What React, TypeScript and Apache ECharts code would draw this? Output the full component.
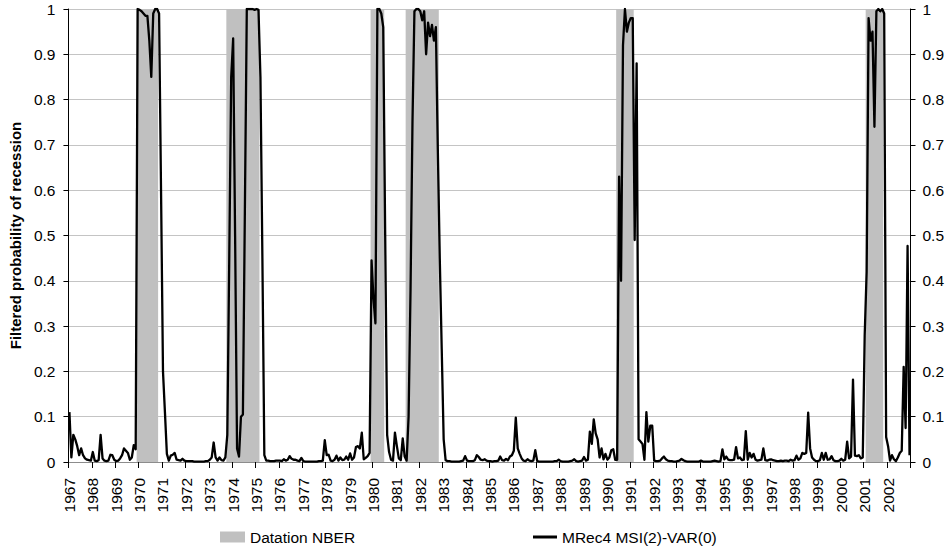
import React, { useEffect, useRef } from "react";
import * as echarts from "echarts";

// ---- Data (monthly, Jan 1967 – Dec 2002) ----
const firstYear = 1967;
const lastYear = 2002;

// Filtered probability of recession, MRec4 MSI(2)-VAR(0)
const prob1967_1972 = [
  0.11, 0.01, 0.06, 0.05, 0.035, 0.015, 0.03, 0.015, 0.008, 0.005, 0.004, 0.003,
  0.022, 0.003, 0.002, 0.004, 0.06, 0.008, 0.003, 0.002, 0.003, 0.016, 0.015, 0.005,
  0.002, 0.003, 0.008, 0.015, 0.03, 0.025, 0.02, 0.005, 0.01, 0.037, 0.028, 1.0,
  0.998, 0.995, 0.99, 0.985, 0.985, 0.93, 0.85, 0.99, 1.0, 1.0, 0.99, 0.6,
  0.2, 0.11, 0.018, 0.003, 0.014, 0.016, 0.02, 0.005, 0.004, 0.003, 0.007, 0.003,
  0.002, 0.002, 0.002, 0.002, 0.001, 0.001, 0.001, 0.001, 0.001, 0.001, 0.002, 0.002,
];
const prob1973_1978 = [
  0.005, 0.01, 0.043, 0.01, 0.003, 0.01, 0.004, 0.003, 0.01, 0.06, 0.45, 0.85,
  0.935, 0.5, 0.03, 0.012, 0.1, 0.105, 0.55, 1.0, 1.0, 1.0, 1.0, 0.998,
  1.0, 0.998, 0.85, 0.45, 0.015, 0.003, 0.003, 0.002, 0.002, 0.002, 0.003, 0.003,
  0.003, 0.002, 0.006, 0.003, 0.005, 0.013, 0.007, 0.005, 0.005, 0.003, 0.002, 0.009,
  0.002, 0.001, 0.001, 0.001, 0.001, 0.001, 0.001, 0.001, 0.002, 0.002, 0.003, 0.048,
  0.015, 0.016, 0.003, 0.002, 0.005, 0.014, 0.003, 0.01, 0.004, 0.005, 0.012, 0.005,
];
const prob1979_1984 = [
  0.019, 0.005, 0.01, 0.033, 0.035, 0.03, 0.065, 0.006, 0.009, 0.013, 0.02, 0.445,
  0.36, 0.306, 1.0, 1.0, 0.99, 0.96, 0.5, 0.06, 0.022, 0.005, 0.003, 0.065,
  0.035, 0.008, 0.004, 0.052, 0.012, 0.003, 0.1, 0.38, 0.75, 0.995, 1.0, 1.0,
  0.995, 0.975, 0.995, 0.9, 0.97, 0.94, 0.965, 0.93, 0.96, 0.69, 0.45, 0.25,
  0.05, 0.004, 0.002, 0.002, 0.001, 0.001, 0.001, 0.001, 0.001, 0.002, 0.003, 0.013,
  0.003, 0.002, 0.002, 0.002, 0.004, 0.015, 0.011, 0.005, 0.004, 0.006, 0.003, 0.002,
];
const prob1985_1990 = [
  0.002, 0.001, 0.002, 0.002, 0.003, 0.012, 0.004, 0.003, 0.007, 0.004, 0.012, 0.015,
  0.025, 0.098, 0.03, 0.018, 0.008, 0.003, 0.002, 0.006, 0.003, 0.002, 0.003, 0.026,
  0.002, 0.001, 0.001, 0.001, 0.001, 0.001, 0.001, 0.001, 0.001, 0.002, 0.002, 0.005,
  0.002, 0.001, 0.001, 0.001, 0.001, 0.002, 0.003, 0.006, 0.002, 0.001, 0.002, 0.003,
  0.011, 0.003, 0.005, 0.067, 0.04, 0.094, 0.063, 0.05, 0.01, 0.03, 0.006, 0.018,
  0.005, 0.01, 0.026, 0.028, 0.005, 0.005, 0.63, 0.4, 0.92, 1.0, 0.95, 0.97,
];
const prob1991_1996 = [
  0.98, 0.98, 0.49, 0.88, 0.05, 0.045, 0.04, 0.005, 0.11, 0.045, 0.08, 0.08,
  0.003, 0.002, 0.002, 0.003, 0.008, 0.012, 0.006, 0.003, 0.002, 0.002, 0.001, 0.001,
  0.002, 0.003, 0.007, 0.004, 0.002, 0.001, 0.001, 0.001, 0.001, 0.001, 0.001, 0.001,
  0.003, 0.001, 0.001, 0.001, 0.001, 0.001, 0.002, 0.003, 0.002, 0.001, 0.002, 0.028,
  0.006, 0.012, 0.005, 0.004, 0.004, 0.005, 0.033, 0.008, 0.01, 0.004, 0.005, 0.068,
  0.005, 0.02, 0.01, 0.018, 0.005, 0.003, 0.004, 0.005, 0.03, 0.004, 0.003, 0.005,
];
const prob1997_2002 = [
  0.006, 0.004, 0.003, 0.002, 0.002, 0.003, 0.002, 0.003, 0.003, 0.002, 0.005, 0.003,
  0.004, 0.014, 0.005, 0.008, 0.02, 0.018, 0.02, 0.109, 0.03, 0.01, 0.005, 0.002,
  0.002, 0.004, 0.02, 0.005, 0.02, 0.005, 0.006, 0.013, 0.004, 0.002, 0.002, 0.003,
  0.007, 0.003, 0.005, 0.045, 0.008, 0.012, 0.182, 0.014, 0.013, 0.015, 0.008, 0.01,
  0.28, 0.42, 0.98, 0.93, 0.95, 0.74, 0.995, 1.0, 0.995, 1.0, 0.99, 0.055,
  0.035, 0.003, 0.015, 0.006, 0.002, 0.01, 0.02, 0.025, 0.21, 0.075, 0.477, 0.015,
];

// NBER recession dating (first month, last month shaded)
const nberPeriods: [string, string][] = [
  ["1969-12", "1970-10"],
  ["1973-10", "1975-02"],
  ["1979-12", "1980-06"],
  ["1981-06", "1982-10"],
  ["1990-06", "1991-02"],
  ["2001-02", "2001-10"],
];
const nberLevel = 1;

const yTicks = [0, 0.1, 0.2, 0.3, 0.4, 0.5, 0.6, 0.7, 0.8, 0.9, 1];

const seriesNames = ["Datation NBER", "MRec4 MSI(2)-VAR(0)"];

// ---- Derived tables ----
const months: string[] = [];
for (let y = firstYear; y <= lastYear; y++) {
  for (let m = 1; m <= 12; m++) months.push(`${y}-${m < 10 ? "0" + m : m}`);
}
const probability = [
  ...prob1967_1972,
  ...prob1973_1978,
  ...prob1979_1984,
  ...prob1985_1990,
  ...prob1991_1996,
  ...prob1997_2002,
];
const nberData = nberPeriods.map(([a, b]) => [
  months.indexOf(a),
  months.indexOf(b),
  nberLevel,
]);

const FONT = "Liberation Sans, Arial, Helvetica, sans-serif";
const FS = 15.5;

export default function App() {
  const ref = useRef<HTMLDivElement>(null);

  useEffect(() => {
    document.body.style.margin = "0";
    if (!ref.current) return;
    const chart = echarts.init(ref.current, undefined, { renderer: "svg" });

    const yAxisCommon = {
      type: "value" as const,
      min: yTicks[0],
      max: yTicks[yTicks.length - 1],
      interval: 0.1,
      axisLine: { show: true, lineStyle: { color: "#000", width: 1 } },
      axisTick: { show: true, length: 5, lineStyle: { color: "#000" } },
    };
    const labelFmt = (v: number) => String(Math.round(v * 10) / 10);

    chart.setOption({
      animation: false,
      backgroundColor: "#fff",
      textStyle: { fontFamily: FONT },
      grid: { left: 68, right: 40.5, top: 9, bottom: 87, containLabel: false },
      legend: [
        {
          data: [{ name: seriesNames[0], icon: "rect" }],
          left: 220,
          top: 529,
          padding: 0,
          itemWidth: 25,
          itemHeight: 11,
          textStyle: { fontSize: FS, color: "#000", fontFamily: FONT },
        },
        {
          data: [{ name: seriesNames[1], icon: "rect" }],
          left: 533,
          top: 529,
          padding: 0,
          itemWidth: 24,
          itemHeight: 3,
          textStyle: { fontSize: FS, color: "#000", fontFamily: FONT },
        },
      ],
      xAxis: [
        {
          type: "category",
          data: months,
          boundaryGap: true,
          axisLine: { show: true, lineStyle: { color: "#000", width: 1 } },
          axisTick: {
            show: true,
            interval: 11,
            length: 6,
            lineStyle: { color: "#000" },
          },
          axisLabel: {
            interval: 11,
            rotate: 90,
            margin: 16,
            fontSize: FS,
            color: "#000",
            fontFamily: FONT,
            formatter: (v: string) => v.slice(0, 4),
          },
          splitLine: { show: false },
        },
        {
          type: "category",
          data: months,
          position: "top",
          boundaryGap: true,
          axisLine: { show: true, lineStyle: { color: "#8c8c8c", width: 1 } },
          axisTick: { show: false },
          axisLabel: { show: false },
        },
      ],
      yAxis: [
        {
          ...yAxisCommon,
          position: "left",
          name: "Filtered probability of recession",
          nameLocation: "middle",
          nameGap: 45,
          nameTextStyle: {
            fontSize: 15,
            fontWeight: "bold",
            color: "#000",
            fontFamily: FONT,
          },
          axisLabel: {
            margin: 13,
            fontSize: FS,
            color: "#000",
            fontFamily: FONT,
            formatter: labelFmt,
          },
          splitLine: { show: true, lineStyle: { color: "#c4c4c4", width: 1 } },
        },
        {
          ...yAxisCommon,
          position: "right",
          axisLabel: {
            margin: 12,
            fontSize: FS,
            color: "#000",
            fontFamily: FONT,
            formatter: labelFmt,
          },
          splitLine: { show: false },
        },
      ],
      series: [
        {
          name: seriesNames[0],
          type: "custom",
          xAxisIndex: 0,
          yAxisIndex: 0,
          data: nberData,
          encode: { x: [0, 1], y: 2 },
          itemStyle: { color: "#c0c0c0" },
          renderItem: (params: any, api: any) => {
            const s = api.value(0);
            const e = api.value(1);
            const top = api.coord([s, api.value(2)]);
            const bottom = api.coord([e, 0]);
            const band = api.size([1, 0])[0];
            return {
              type: "rect",
              shape: {
                x: top[0] - band / 2,
                y: top[1],
                width: bottom[0] - top[0] + band,
                height: bottom[1] - top[1],
              },
              style: { fill: "#c0c0c0" },
            };
          },
          z: 1,
        },
        {
          name: seriesNames[1],
          type: "line",
          xAxisIndex: 0,
          yAxisIndex: 0,
          data: probability,
          symbol: "none",
          showSymbol: false,
          lineStyle: { color: "#000", width: 2.3, join: "round" },
          itemStyle: { color: "#000" },
          emphasis: { disabled: true },
          z: 3,
        },
      ],
    });

    return () => chart.dispose();
  }, []);

  return <div ref={ref} style={{ width: 951, height: 549 }} />;
}
